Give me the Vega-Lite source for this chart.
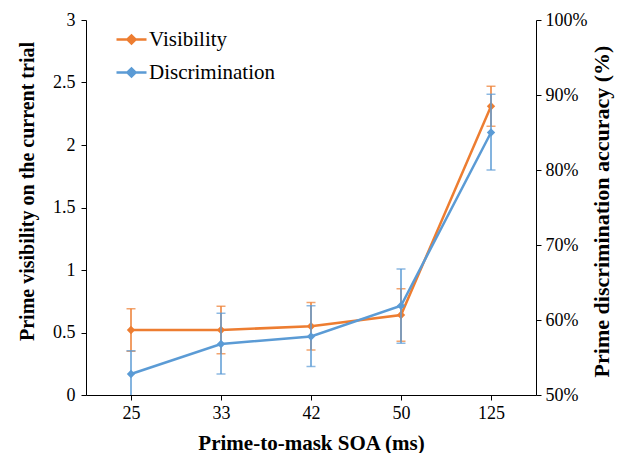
{
  "$schema": "https://vega.github.io/schema/vega-lite/v6.json",
  "width": 450,
  "height": 375,
  "autosize": {"type": "none"},
  "padding": {"left": 86, "top": 20, "right": 94, "bottom": 58},
  "background": "white",
  "datasets": {
    "visibility": [
      {"soa": "25", "series": "Visibility", "mean": 0.52, "lo": 0.35, "hi": 0.69},
      {"soa": "33", "series": "Visibility", "mean": 0.52, "lo": 0.33, "hi": 0.71},
      {"soa": "42", "series": "Visibility", "mean": 0.55, "lo": 0.36, "hi": 0.74},
      {"soa": "50", "series": "Visibility", "mean": 0.64, "lo": 0.43, "hi": 0.85},
      {"soa": "125", "series": "Visibility", "mean": 2.31, "lo": 2.15, "hi": 2.47}
    ],
    "discrimination": [
      {"soa": "25", "series": "Discrimination", "mean": 52.8, "lo": 49.7, "hi": 55.9},
      {"soa": "33", "series": "Discrimination", "mean": 56.8, "lo": 52.8, "hi": 60.9},
      {"soa": "42", "series": "Discrimination", "mean": 57.8, "lo": 53.8, "hi": 61.9},
      {"soa": "50", "series": "Discrimination", "mean": 61.9, "lo": 56.9, "hi": 66.8},
      {"soa": "125", "series": "Discrimination", "mean": 85.0, "lo": 80.0, "hi": 90.1}
    ]
  },
  "encoding": {
    "x": {
      "field": "soa",
      "type": "ordinal",
      "sort": ["25", "33", "42", "50", "125"],
      "scale": {"type": "point", "padding": 0.5},
      "axis": {
        "title": "Prime-to-mask SOA (ms)",
        "labelAngle": 0,
        "titleFontSize": 21,
        "titlePadding": 10
      }
    },
    "color": {
      "field": "series",
      "type": "nominal",
      "scale": {"domain": ["Visibility", "Discrimination"], "range": ["#ED7D31", "#5B9BD5"]},
      "legend": {
        "title": null,
        "orient": "none",
        "legendX": 29,
        "legendY": 3,
        "padding": 0,
        "symbolType": "M-1,0L1,0M-0.27,0L0,-0.27L0.27,0L0,0.27Z",
        "symbolSize": 900,
        "symbolStrokeWidth": 2.5,
        "labelOffset": 1,
        "rowPadding": 6,
        "labelFont": "Liberation Serif",
        "labelFontSize": 21,
        "labelColor": "#000",
        "labelLimit": 300,
        "encode": {
          "symbols": {
            "update": {
              "fill": {"scale": "color", "field": "value"},
              "stroke": {"scale": "color", "field": "value"},
              "opacity": {"value": 1}
            }
          }
        }
      }
    }
  },
  "layer": [
    {
      "data": {"name": "visibility"},
      "encoding": {
        "y": {
          "field": "mean",
          "type": "quantitative",
          "scale": {"domain": [0, 3], "nice": false, "zero": true},
          "axis": {
            "title": "Prime visibility on the current trial",
            "values": [0, 0.5, 1, 1.5, 2, 2.5, 3],
            "format": "~g",
            "orient": "left",
            "labelPadding": 6,
            "titleFontSize": 20,
            "titlePadding": 15,
            "titleY": 171
          }
        }
      },
      "layer": [
        {
          "mark": {"type": "rule", "strokeWidth": 1.5},
          "encoding": {"y": {"field": "lo", "type": "quantitative"}, "y2": {"field": "hi"}}
        },
        {
          "mark": {"type": "tick", "size": 9, "thickness": 1.5},
          "encoding": {"y": {"field": "lo", "type": "quantitative"}}
        },
        {
          "mark": {"type": "tick", "size": 9, "thickness": 1.5},
          "encoding": {"y": {"field": "hi", "type": "quantitative"}}
        },
        {"mark": {"type": "line", "strokeWidth": 2.5}},
        {"mark": {"type": "point", "shape": "diamond", "filled": true, "size": 70, "opacity": 1}}
      ]
    },
    {
      "data": {"name": "discrimination"},
      "encoding": {
        "y": {
          "field": "mean",
          "type": "quantitative",
          "scale": {"domain": [50, 100], "nice": false, "zero": false},
          "axis": {
            "title": "Prime discrimination accuracy (%)",
            "values": [50, 60, 70, 80, 90, 100],
            "labelExpr": "datum.value + '%'",
            "orient": "right",
            "titleAngle": 270,
            "titleFontSize": 22,
            "titlePadding": 27,
            "titleY": 191
          }
        }
      },
      "layer": [
        {
          "mark": {"type": "rule", "strokeWidth": 1.5, "clip": true},
          "encoding": {"y": {"field": "lo", "type": "quantitative"}, "y2": {"field": "hi"}}
        },
        {
          "mark": {"type": "tick", "size": 9, "thickness": 1.5, "clip": true},
          "encoding": {"y": {"field": "lo", "type": "quantitative"}}
        },
        {
          "mark": {"type": "tick", "size": 9, "thickness": 1.5},
          "encoding": {"y": {"field": "hi", "type": "quantitative"}}
        },
        {"mark": {"type": "line", "strokeWidth": 2.5}},
        {"mark": {"type": "point", "shape": "diamond", "filled": true, "size": 70, "opacity": 1}}
      ]
    }
  ],
  "resolve": {"scale": {"y": "independent"}},
  "config": {
    "view": {"stroke": null},
    "axis": {
      "grid": false,
      "domainColor": "#000",
      "domainWidth": 1,
      "tickColor": "#000",
      "tickSize": 5,
      "labelFont": "Liberation Serif",
      "labelFontSize": 18,
      "labelColor": "#000",
      "labelPadding": 4,
      "titleFont": "Liberation Serif",
      "titleFontSize": 20,
      "titleFontWeight": "bold",
      "titleColor": "#000"
    }
  }
}
